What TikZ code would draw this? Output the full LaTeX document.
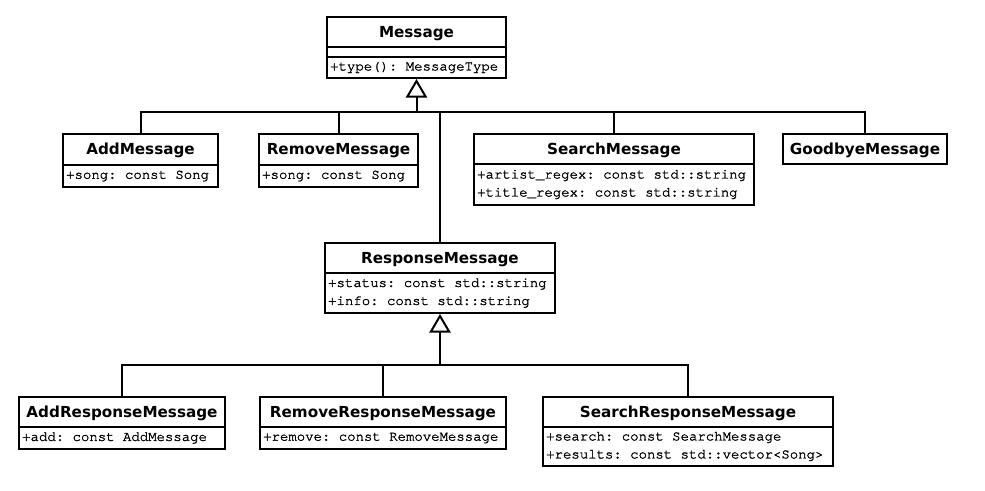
\documentclass[tikz,border=0pt]{standalone}
\usepackage{fontspec}
\setmainfont{DejaVu Sans}
\setmonofont[FakeBold=1.6]{TeX Gyre Cursor}
\usetikzlibrary{fit,arrows.meta}
\tikzset{
  classbox/.style={draw, line width=1.5pt, inner sep=0pt},
  sepline/.style={line width=1.5pt},
  titletext/.style={anchor=base, inner sep=0pt, yshift=-4.1pt, font=\bfseries\fontsize{11.4pt}{13pt}\selectfont},
  attrtext/.style={anchor=west, inner sep=0pt, xshift=2.2pt, align=left,
    font=\ttfamily\fontsize{10.5pt}{13.5pt}\selectfont},
  conn/.style={line width=1.5pt},
  inherit/.style={line width=1.5pt, -{Triangle[open, length=14pt, width=16pt, line width=1.5pt]}}
}
\newcommand{\umlclass}[8]{%
  \node[classbox, fit={(#2,#3) (#4,#6)}] (#1) {};
  \draw[sepline] (#2,#5) -- (#4,#5);
  \node[titletext] (#1-title) at ({(#2+#4)/2},{(#3+#5)/2}) {#7};
  \node[attrtext] (#1-attrs) at (#2,{(#5+#6)/2}) {#8};
}
\begin{document}
\begin{tikzpicture}[x=0.75pt,y=-0.75pt]
\fill[white] (0,0) rectangle (985,491);
\useasboundingbox (0,0) rectangle (985,491);

% Message
\node[classbox, fit={(327,17) (506,78)}] (msg) {};
\draw[sepline] (327,47) -- (506,47);
\draw[sepline] (327,57) -- (506,57);
\node[titletext] (msg-title) at (416.5,32) {Message};
\node[attrtext] (msg-ops) at (327,67.5) {+type(): MessageType};

\umlclass{add}{63}{134}{218}{165}{187}{AddMessage}{+song: const Song}
\umlclass{rem}{259}{134}{418}{165}{187}{RemoveMessage}{+song: const Song}
\umlclass{search}{474}{134}{754}{164}{205}{SearchMessage}{+artist\_regex: const std::string\\+title\_regex: const std::string}

\node[classbox, fit={(783,134) (947,164)}] (bye) {};
\node[titletext] (bye-title) at (865,149) {GoodbyeMessage};

\umlclass{resp}{325}{243}{555}{273}{313}{ResponseMessage}{+status: const std::string\\+info: const std::string}

\umlclass{addr}{19}{397}{225}{427}{449}{AddResponseMessage}{+add: const AddMessage}
\umlclass{remr}{260}{397}{506}{427}{449}{RemoveResponseMessage}{+remove: const RemoveMessage}
\umlclass{searchr}{543}{397}{833}{427}{466}{SearchResponseMessage}{+search: const SearchMessage\\+results: const std::vector<Song>}

% inheritance to Message
\coordinate (bus1) at (416.5,112);
\draw[conn] (add.north) |- (bus1);
\draw[conn] (rem.north) |- (bus1);
\draw[conn] (resp.north) |- (bus1);
\draw[conn] (search.north) |- (bus1);
\draw[conn] (bye.north) |- (bus1);
\draw[inherit] (bus1) -- (msg.south);

% inheritance to ResponseMessage
\coordinate (bus2) at (440,365);
\draw[conn] (addr.north) |- (bus2);
\draw[conn] (remr.north) |- (bus2);
\draw[conn] (searchr.north) |- (bus2);
\draw[inherit] (bus2) -- (resp.south);
\end{tikzpicture}
\end{document}
